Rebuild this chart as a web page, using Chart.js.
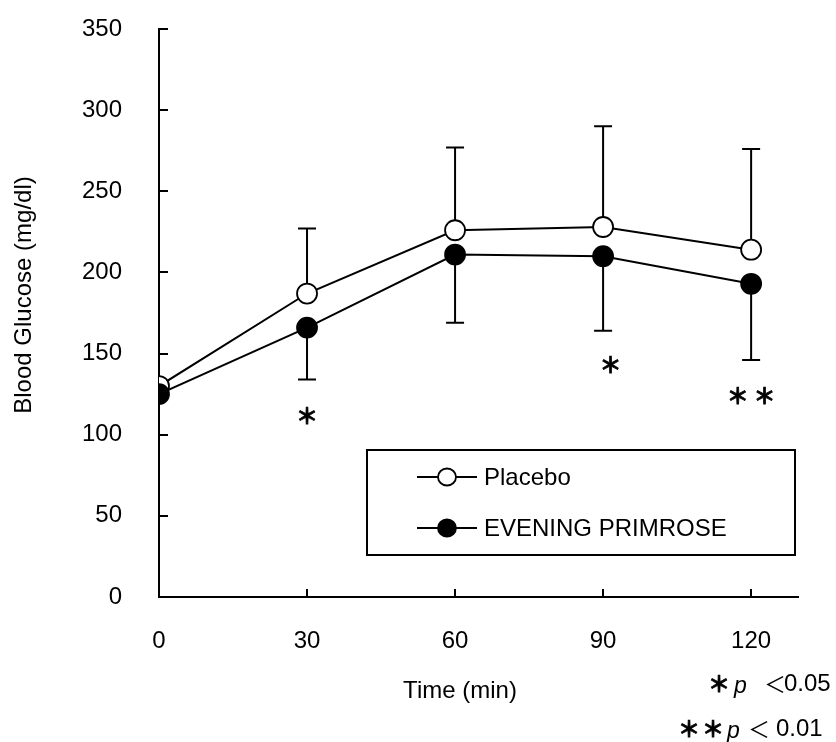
<!DOCTYPE html>
<html>
<head>
<meta charset="utf-8">
<script src="https://cdn.jsdelivr.net/npm/chart.js@4/dist/chart.umd.min.js"></script>
<style>
html,body{margin:0;padding:0;background:#fff;}
canvas{display:block;}
</style>
</head>
<body>
<canvas id="c" width="836" height="742"></canvas>
<script>
// ---- data ----
const timeLabels = [0, 30, 60, 90, 120];
const yTickValues = [0, 50, 100, 150, 200, 250, 300, 350];
const placebo = [130, 187, 226, 228, 214];
const placeboSD = [0, 40, 51, 62, 62];
const primrose = [125, 166, 211, 210, 193];
const primroseSD = [0, 32, 42, 46, 47];
const seriesNames = ['Placebo', 'EVENING PRIMROSE'];
const starX = [30, 91.5, 120];
const starY = [112, 143, 124];
const starText = ['＊', '＊', '＊ ＊'];
const xTitle = 'Time (min)';
const yTitle = 'Blood Glucose (mg/dl)';

const FONT = '"Liberation Sans", Arial, sans-serif';
const CJK = '"Noto Sans CJK JP", "Liberation Sans", sans-serif';

const pts = arr => timeLabels.map((t, i) => ({x: t, y: arr[i]}));

const customDraw = {
  id: 'customDraw',
  beforeDatasetsDraw(chart) {
    const ctx = chart.ctx, xs = chart.scales.x, ys = chart.scales.y;
    ctx.save();
    ctx.strokeStyle = '#000';
    ctx.lineWidth = 2;
    const bar = (t, v, e) => {
      const px = xs.getPixelForValue(t);
      const p0 = ys.getPixelForValue(v), p1 = ys.getPixelForValue(e);
      ctx.beginPath();
      ctx.moveTo(px, p0); ctx.lineTo(px, p1);
      ctx.moveTo(px - 9, p1); ctx.lineTo(px + 9, p1);
      ctx.stroke();
    };
    timeLabels.forEach((t, i) => {
      if (placeboSD[i]) bar(t, placebo[i], placebo[i] + placeboSD[i]);
      if (primroseSD[i]) bar(t, primrose[i], primrose[i] - primroseSD[i]);
    });
    ctx.restore();
  },
  afterDraw(chart) {
    const ctx = chart.ctx, xs = chart.scales.x, ys = chart.scales.y;
    const ca = chart.chartArea;
    ctx.save();
    ctx.strokeStyle = '#000';
    ctx.lineWidth = 2;
    // inward tick marks
    ctx.beginPath();
    ys.ticks.forEach(tk => {
      const py = Math.round(ys.getPixelForValue(tk.value));
      ctx.moveTo(ca.left, py); ctx.lineTo(ca.left + 9, py);
    });
    xs.ticks.forEach(tk => {
      const px = Math.round(xs.getPixelForValue(tk.value));
      ctx.moveTo(px, ca.bottom); ctx.lineTo(px, ca.bottom - 8);
    });
    ctx.stroke();

    // significance stars
    ctx.fillStyle = '#000';
    ctx.strokeStyle = '#000';
    ctx.font = 'bold 22px ' + CJK;
    ctx.textAlign = 'center';
    ctx.textBaseline = 'middle';
    ctx.lineWidth = 0.8;
    starX.forEach((x, i) => {
      const px = xs.getPixelForValue(x), py = ys.getPixelForValue(starY[i]);
      ctx.fillText(starText[i], px, py);
      ctx.strokeText(starText[i], px, py);
    });

    // axis titles
    ctx.font = '24px ' + FONT;
    ctx.textAlign = 'center';
    ctx.textBaseline = 'middle';
    ctx.fillText(xTitle, 460, 691);
    ctx.save();
    ctx.translate(24, 295);
    ctx.rotate(-Math.PI / 2);
    ctx.fillText(yTitle, 0, 0);
    ctx.restore();

    // legend
    const lx = 367, ly = 450, lw = 428, lh = 105;
    ctx.lineWidth = 2;
    ctx.strokeRect(lx, ly, lw, lh);
    const ds = chart.data.datasets;
    const rows = [{y: 477, idx: 0}, {y: 528, idx: 1}];
    rows.forEach(r => {
      const d = ds.find(q => q.label === seriesNames[r.idx]);
      ctx.beginPath();
      ctx.moveTo(417, r.y); ctx.lineTo(477, r.y);
      ctx.lineWidth = 2;
      ctx.stroke();
      ctx.beginPath();
      ctx.ellipse(447, r.y, 9, 8.5, 0, 0, Math.PI * 2);
      ctx.fillStyle = d.pointBackgroundColor;
      ctx.fill();
      ctx.lineWidth = 1.8;
      ctx.stroke();
      ctx.fillStyle = '#000';
      ctx.font = '24px ' + FONT;
      ctx.textAlign = 'left';
      ctx.textBaseline = 'middle';
      ctx.fillText(d.label, 484, r.y + 1);
    });

    // footnotes
    ctx.fillStyle = '#000';
    ctx.strokeStyle = '#000';
    ctx.lineWidth = 0.8;
    ctx.textBaseline = 'middle';
    ctx.textAlign = 'center';
    ctx.font = 'bold 22px ' + CJK;
    [[719, 684], [689, 729], [713, 729]].forEach(p => {
      ctx.fillText('＊', p[0], p[1]);
      ctx.strokeText('＊', p[0], p[1]);
    });
    ctx.font = 'italic 23px ' + FONT;
    ctx.textAlign = 'left';
    ctx.fillText('p', 734, 687);
    ctx.fillText('p', 727, 732);
    ctx.font = '22px ' + CJK;
    ctx.fillText('＜', 764, 684);
    ctx.fillText('＜', 748, 729);
    ctx.font = '24px ' + FONT;
    ctx.fillText('0.05', 784, 684);
    ctx.fillText('0.01', 776, 729);
    ctx.restore();
  }
};

new Chart(document.getElementById('c'), {
  type: 'line',
  data: {
    datasets: [
      {
        label: seriesNames[0], data: pts(placebo), order: 1,
        borderColor: '#000', borderWidth: 2, tension: 0,
        pointRadius: 10, pointBackgroundColor: '#fff', pointBorderColor: '#000', pointBorderWidth: 1.8
      },
      {
        label: seriesNames[1], data: pts(primrose), order: 0,
        borderColor: '#000', borderWidth: 2, tension: 0,
        pointRadius: 10, pointBackgroundColor: '#000', pointBorderColor: '#000', pointBorderWidth: 1.8
      }
    ]
  },
  options: {
    responsive: false,
    animation: false,
    devicePixelRatio: 1,
    layout: {padding: {left: 0, right: 38, top: 29, bottom: 0}},
    plugins: {legend: {display: false}, tooltip: {enabled: false}},
    scales: {
      x: {
        type: 'linear', min: 0, max: 129.5,
        afterBuildTicks: s => { s.ticks = timeLabels.map(v => ({value: v})); },
        afterFit: s => { s.height = 145; s.paddingLeft = 0; s.paddingRight = 0; },
        grid: {display: false, drawTicks: false},
        border: {display: true, color: '#000', width: 2},
        ticks: {color: '#000', font: {family: FONT, size: 24}, padding: 30, maxRotation: 0, autoSkip: false}
      },
      y: {
        type: 'linear', min: 0, max: 350,
        afterBuildTicks: s => { s.ticks = yTickValues.map(v => ({value: v})); },
        afterFit: s => { s.width = 159; s.paddingTop = 0; s.paddingBottom = 0; },
        grid: {display: false, drawTicks: false},
        border: {display: true, color: '#000', width: 2},
        ticks: {color: '#000', font: {family: FONT, size: 24}, padding: 37}
      }
    }
  },
  plugins: [customDraw]
});
</script>
</body>
</html>
